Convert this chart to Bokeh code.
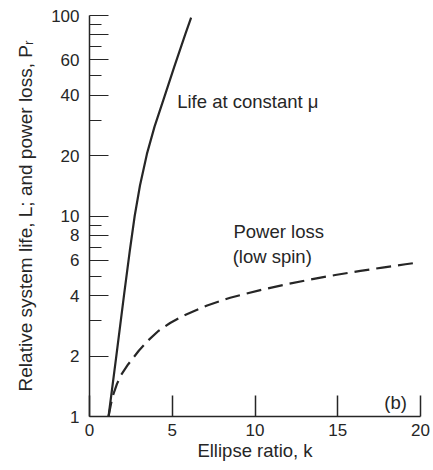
from bokeh.plotting import figure
from bokeh.models import Range1d, FixedTicker, Label
from bokeh.embed import file_html
from bokeh.resources import INLINE

# Life at constant friction coefficient vs ellipse ratio
life_k = [1.15, 1.62, 2.08, 2.44, 2.73, 3.05, 3.47, 3.93, 4.45, 5.11, 5.79, 6.14]
life_val = [1.0, 2.0, 4.0, 6.75, 10.0, 14.2, 20.4, 27.9, 37.6, 55.1, 80.8, 97.7]

# Power loss (low spin) vs ellipse ratio
loss_k = [1.15, 1.30, 1.45, 1.66, 1.91, 2.33, 2.99, 3.54, 4.16, 4.87, 5.58,
          7.11, 8.50, 10.32, 11.95, 13.34, 14.85, 16.37, 17.70, 19.09, 19.70]
loss_val = [1.0, 1.157, 1.297, 1.455, 1.612, 1.818, 2.135, 2.394, 2.669, 2.926,
            3.155, 3.579, 3.913, 4.269, 4.574, 4.822, 5.077, 5.320, 5.531,
            5.744, 5.837]

x_ticks = [0, 5, 10, 15, 20]
y_major = [1, 2, 4, 6, 8, 10, 20, 40, 60, 80, 100]
y_minor = [3, 5, 7, 9, 30, 50, 70, 90]

FONT = "'Liberation Sans', Arial, sans-serif"
INK = "#262626"

p = figure(width=433, height=470, output_backend="svg", toolbar_location=None,
           x_range=Range1d(0, 20), y_range=Range1d(1, 100), y_axis_type="log",
           min_border_left=89, min_border_right=13, min_border_top=15,
           min_border_bottom=54)
p.outline_line_color = None
p.grid.visible = False
p.background_fill_color = "white"
p.border_fill_color = "white"

# bottom axis
xa = p.xaxis[0]
xa.ticker = FixedTicker(ticks=x_ticks)
xa.major_tick_in = 21
xa.major_tick_out = 0
xa.minor_tick_line_color = None
xa.axis_line_width = 1.5
xa.axis_line_color = INK
xa.major_tick_line_color = INK
xa.major_tick_line_width = 1.5
xa.major_label_text_font = FONT
xa.major_label_text_font_size = "17px"
xa.major_label_text_color = INK
xa.major_label_standoff = 7
xa.axis_label = "Ellipse ratio, k"
xa.axis_label_text_font = FONT
xa.axis_label_text_font_size = "18.5px"
xa.axis_label_text_font_style = "normal"
xa.axis_label_text_color = INK
xa.axis_label_standoff = 1

# left (log) axis
ya = p.yaxis[0]
ya.ticker = FixedTicker(ticks=y_major, minor_ticks=y_minor)
ya.major_label_overrides = {80: ""}
ya.major_tick_in = 19
ya.major_tick_out = 0
ya.minor_tick_in = 12
ya.minor_tick_out = 0
ya.axis_line_width = 1.5
ya.axis_line_color = INK
ya.major_tick_line_color = INK
ya.minor_tick_line_color = INK
ya.major_tick_line_width = 1.2
ya.minor_tick_line_width = 1.2
ya.major_label_text_font = FONT
ya.major_label_text_font_size = "17px"
ya.major_label_text_color = INK
ya.major_label_standoff = 10
ya.axis_label = "Relative system life, L; and power loss, P\u1d63"
ya.axis_label_text_font = FONT
ya.axis_label_text_font_size = "19px"
ya.axis_label_text_font_style = "normal"
ya.axis_label_text_color = INK
ya.axis_label_standoff = 12

# curves
p.line(life_k, life_val, line_color=INK, line_width=2.2)
p.line(loss_k, loss_val, line_color=INK, line_width=2.2, line_dash="15 7")

def note(text, x, y, align="left"):
    p.add_layout(Label(x=x, y=y, text=text, text_font=FONT,
                       text_font_size="18.5px", text_color=INK,
                       text_align=align, text_baseline="middle"))

note("Life at constant μ", 5.3, 37.3)
note("Power loss", 8.7, 8.4)
note("(low spin)", 8.65, 6.3)
note("(b)", 18.5, 1.17, align="center")

open("out.html", "w").write(file_html(p, INLINE))
